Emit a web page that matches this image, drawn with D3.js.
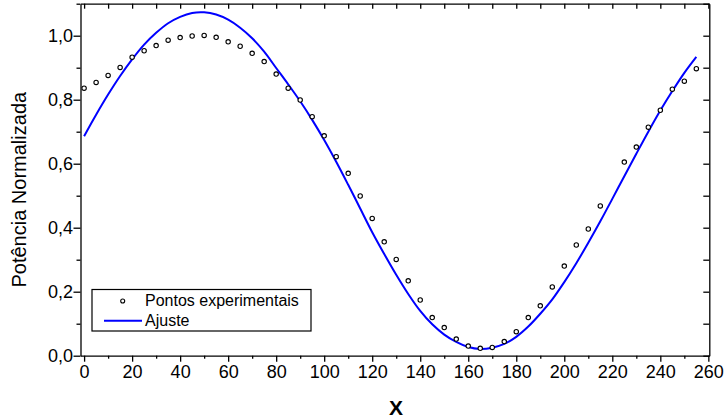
<!DOCTYPE html>
<html>
  <head>
    <meta charset="utf-8">
    <title>Potencia Normalizada</title>
    <style type="text/css">
        body{
            margin: 0;
            background: #ffffff;
        }
        text{
            font-family: "Liberation Sans", Arial, sans-serif;
            fill: #000;
        }
        .domain, .tick line{
            stroke: #000;
            stroke-width: 1.3px;
        }
    </style>
  </head>
  <body>
    <div id="chart"></div>

    <script src="https://cdn.jsdelivr.net/npm/d3@7"></script>
    <script>
        //  experimental points (x = 220 is absent in the original)
        var pointX = [0, 5, 10, 15, 20, 25, 30, 35, 40, 45, 50, 55, 60, 65, 70, 75, 80, 85,
                      90, 95, 100, 105, 110, 115, 120, 125, 130, 135, 140, 145, 150, 155, 160,
                      165, 170, 175, 180, 185, 190, 195, 200, 205, 210, 215, 225, 230, 235,
                      240, 245, 250, 255];
        var pointY = [0.836, 0.854, 0.876, 0.901, 0.933, 0.953, 0.969, 0.986, 0.994, 0.999,
                      1.001, 0.995, 0.981, 0.967, 0.945, 0.919, 0.880, 0.836,
                      0.799, 0.747, 0.687, 0.622, 0.570, 0.499, 0.429, 0.356, 0.301, 0.234,
                      0.174, 0.119, 0.088, 0.052, 0.030,
                      0.023, 0.026, 0.044, 0.075, 0.119, 0.156, 0.215, 0.280, 0.346, 0.396,
                      0.468, 0.605, 0.652, 0.714, 0.767, 0.833, 0.858, 0.897];

        //  fitted curve
        var fitX = [0, 5, 10, 15, 20, 25, 30, 35, 40, 45, 50, 55, 60, 65, 70, 75, 80, 85,
                    90, 95, 100, 105, 110, 115, 120, 125, 130, 135, 140, 145, 150, 155, 160,
                    165, 170, 175, 180, 185, 190, 195, 200, 205, 210, 215, 220, 225, 230,
                    235, 240, 245, 250, 255];
        var fitY = [0.686, 0.753, 0.816, 0.874, 0.926, 0.972, 1.009, 1.039, 1.059, 1.071,
                    1.073, 1.066, 1.050, 1.025, 0.992, 0.950, 0.899, 0.848,
                    0.795, 0.737, 0.674, 0.606, 0.534, 0.460, 0.386, 0.318, 0.253, 0.193,
                    0.140, 0.098, 0.066, 0.043, 0.027,
                    0.021, 0.025, 0.037, 0.059, 0.091, 0.131, 0.176, 0.230, 0.289, 0.353,
                    0.420, 0.490, 0.561, 0.631, 0.700, 0.766, 0.827, 0.884, 0.934];

        var xTicks = d3.range(0, 261, 10);
        var yTicks = d3.range(0, 1.101, 0.1);

        var width = 726, height = 420;
        var plotLeft = 80.5, plotRight = 709.3, plotTop = 3.7, plotBottom = 355.7;

        var svg = d3.select("#chart").append("svg")
            .attr("width", width)
            .attr("height", height);

        var x = d3.scaleLinear().domain([-1.5, 260.4]).range([plotLeft, plotRight]);
        var y = d3.scaleLinear().domain([0, 1.1]).range([plotBottom, plotTop]);

        var comma = function(v){ return d3.format(".1f")(v).replace(".", ","); };
        var isMajorX = function(v){ return Math.round(v) % 20 === 0; };
        var isMajorY = function(v){ return Math.round(v * 10) % 2 === 0; };

        //  bottom axis: labels every 20
        var gx = svg.append("g")
            .attr("transform", "translate(0," + plotBottom + ")")
            .call(d3.axisBottom(x).tickValues(xTicks).tickSizeOuter(0)
                  .tickFormat(d => isMajorX(d) ? d : ""));
        gx.selectAll(".tick line").attr("y2", d => isMajorX(d) ? 6 : 3);
        gx.selectAll(".tick text").attr("y", 10).attr("dy", "0.71em")
            .style("font-size", "18px");

        //  left axis
        var gy = svg.append("g")
            .attr("transform", "translate(" + plotLeft + ",0)")
            .call(d3.axisLeft(y).tickValues(yTicks).tickSizeOuter(0)
                  .tickFormat(d => isMajorY(d) ? comma(d) : ""));
        gy.selectAll(".tick line").attr("x2", d => isMajorY(d) ? -7 : -4);
        gy.selectAll(".tick text").attr("x", -7.5).style("font-size", "18px");

        //  top and right frame, ticks pointing inward
        svg.append("g")
            .attr("transform", "translate(0," + plotTop + ")")
            .call(d3.axisTop(x).tickValues(xTicks).tickSizeOuter(0).tickSizeInner(-5)
                  .tickFormat(""));
        svg.append("g")
            .attr("transform", "translate(" + plotRight + ",0)")
            .call(d3.axisRight(y).tickValues(yTicks).tickSizeOuter(0).tickSizeInner(-6)
                  .tickFormat(""));

        //  fitted curve
        var line = d3.line()
            .x((d, i) => x(fitX[i]))
            .y(d => y(d))
            .curve(d3.curveCatmullRom);

        svg.append("path")
            .datum(fitY)
            .attr("d", line)
            .attr("fill", "none")
            .attr("stroke", "#0000ff")
            .attr("stroke-width", 2);

        //  experimental points
        svg.append("g").selectAll("circle")
            .data(pointY)
            .enter().append("circle")
                .attr("cx", (d, i) => x(pointX[i]))
                .attr("cy", d => y(d))
                .attr("r", 2.2)
                .attr("fill", "#fff")
                .attr("stroke", "#000")
                .attr("stroke-width", 1.1);

        //  legend
        var legend = svg.append("g");
        legend.append("rect")
            .attr("x", 92).attr("y", 289.5)
            .attr("width", 219).attr("height", 41.5)
            .attr("fill", "#fff")
            .attr("stroke", "#000")
            .attr("stroke-width", 1.2);
        legend.append("circle")
            .attr("cx", 122.7).attr("cy", 301)
            .attr("r", 2)
            .attr("fill", "#fff").attr("stroke", "#000").attr("stroke-width", 1.1);
        legend.append("line")
            .attr("x1", 104).attr("x2", 142)
            .attr("y1", 320.7).attr("y2", 320.7)
            .attr("stroke", "#0000ff").attr("stroke-width", 2);
        legend.append("text")
            .attr("x", 145).attr("y", 306)
            .style("font-size", "16px")
            .text("Pontos experimentais");
        legend.append("text")
            .attr("x", 145).attr("y", 326)
            .style("font-size", "16px")
            .text("Ajuste");

        //  axis titles
        svg.append("text")
            .attr("transform", "translate(26," + ((plotTop + plotBottom) / 2 + 10) + ") rotate(-90)")
            .attr("text-anchor", "middle")
            .style("font-size", "20px")
            .text("Potência Normalizada");

        svg.append("text")
            .attr("x", 396).attr("y", 415)
            .attr("text-anchor", "middle")
            .style("font-size", "21px")
            .style("font-weight", "bold")
            .text("X");
    </script>
  </body>
</html>
